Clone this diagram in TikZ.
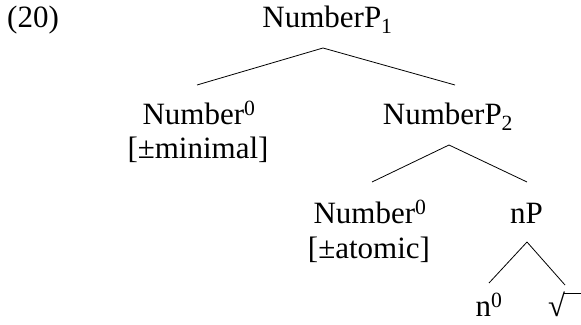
\documentclass[tikz,border=0pt]{standalone}
\usepackage{fontspec}
\setmainfont{Liberation Serif}
\begin{document}
\begin{tikzpicture}[x=1pt,y=1pt,
  lab/.style={inner sep=0pt, anchor=base, font=\fontsize{31}{36}\selectfont},
  br/.style={line width=0.8pt}]
\useasboundingbox (0,0) rectangle (581,324);
\clip (0,0) rectangle (581,324);
\node[lab, anchor=base west] (ex) at (7,296) {(20)};
\node[lab] (root) at (327.5,296) {NumberP\textsubscript{1}};
\node[lab] (numA) at (199,199) {Number\textsuperscript{0}};
\node[lab] (minimal) at (198,165) {[±minimal]};
\node[lab] (np2) at (448,199) {NumberP\textsubscript{2}};
\node[lab] (numB) at (370,100) {Number\textsuperscript{0}};
\node[lab] (atomic) at (369,65) {[±atomic]};
\node[lab] (nP) at (526.5,100) {nP};
\node[lab] (n0) at (489,7) {n\textsuperscript{0}};
\node[lab, anchor=base west] (rt) at (548,7) {√};
\draw[br] ([shift={(-4.5,-20)}]root.base) -- ([shift={(-2,40)}]numA.base);
\draw[br] ([shift={(-4.5,-20)}]root.base) -- ([shift={(7,40)}]np2.base);
\draw[br] ([shift={(1,-20)}]np2.base) -- ([shift={(2,42)}]numB.base);
\draw[br] ([shift={(1,-20)}]np2.base) -- ([shift={(0.5,42)}]nP.base);
\draw[br] ([shift={(0.5,-18)}]nP.base) -- ([shift={(0,34)}]n0.base);
\draw[br] ([shift={(0.5,-18)}]nP.base) -- ([shift={(17,32)}]rt.base west);
\draw[br] ([shift={(-1,-1)}]rt.north east) -- ++(20,0);
\end{tikzpicture}
\end{document}
